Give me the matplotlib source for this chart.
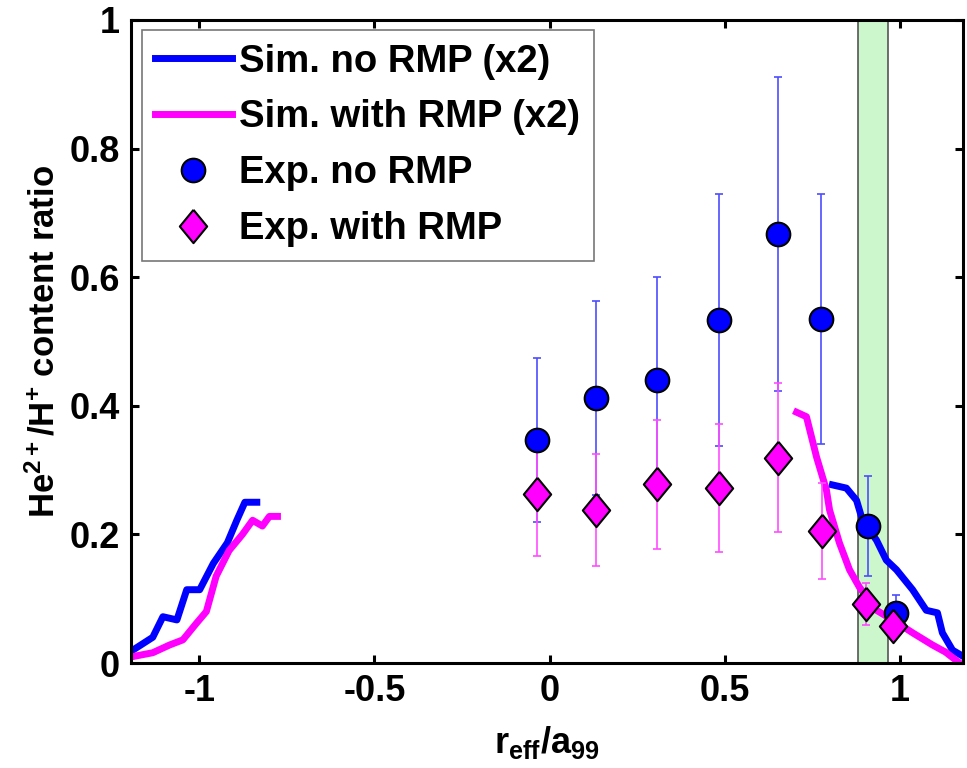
import matplotlib
matplotlib.use('Agg')
import matplotlib.pyplot as plt
import numpy as np

plt.rcParams['font.family'] = ['Liberation Sans', 'DejaVu Sans']
plt.rcParams['mathtext.fontset'] = 'custom'
plt.rcParams['mathtext.rm'] = 'Liberation Sans:bold'
plt.rcParams['mathtext.it'] = 'Liberation Sans:bold'
plt.rcParams['mathtext.default'] = 'rm'

# simulation curves (x2)
sim_no_left_x = [-1.19, -1.133, -1.104, -1.064, -1.036, -0.999, -0.96, -0.92, -0.893, -0.87, -0.836]
sim_no_left_y = [0.02, 0.04, 0.072, 0.067, 0.114, 0.114, 0.155, 0.187, 0.222, 0.25, 0.25]
sim_rmp_left_x = [-1.19, -1.133, -1.085, -1.047, -1.008, -0.98, -0.952, -0.915, -0.877, -0.848, -0.82, -0.80, -0.777]
sim_rmp_left_y = [0.01, 0.016, 0.028, 0.036, 0.062, 0.08, 0.135, 0.175, 0.2, 0.222, 0.213, 0.228, 0.228]
sim_no_right_x = [0.807, 0.847, 0.876, 0.893, 0.933, 0.961, 0.99, 1.036, 1.075, 1.107, 1.121, 1.15, 1.175]
sim_no_right_y = [0.277, 0.272, 0.253, 0.222, 0.191, 0.16, 0.145, 0.114, 0.082, 0.078, 0.047, 0.02, 0.012]
sim_rmp_right_x = [0.705, 0.733, 0.762, 0.79, 0.799, 0.827, 0.856, 0.884, 0.933, 0.979, 1.036, 1.093, 1.13, 1.17]
sim_rmp_right_y = [0.39, 0.383, 0.32, 0.269, 0.238, 0.187, 0.145, 0.118, 0.082, 0.067, 0.047, 0.028, 0.017, 0.0]

# experiment
exp_no_x = [-0.037, 0.131, 0.305, 0.482, 0.653, 0.775, 0.91, 0.99]
exp_no_y = [0.347, 0.412, 0.44, 0.533, 0.667, 0.535, 0.213, 0.078]
exp_no_err = [0.127, 0.151, 0.16, 0.196, 0.244, 0.194, 0.078, 0.028]
exp_rmp_x = [-0.037, 0.131, 0.305, 0.482, 0.653, 0.778, 0.904, 0.981]
exp_rmp_y = [0.263, 0.238, 0.278, 0.272, 0.319, 0.205, 0.092, 0.058]
exp_rmp_err = [0.097, 0.087, 0.10, 0.10, 0.116, 0.075, 0.033, 0.02]

band = (0.879, 0.967)

xticks = [-1, -0.5, 0, 0.5, 1]
xticklabels = ['-1', '-0.5', '0', '0.5', '1']
yticks = [0, 0.2, 0.4, 0.6, 0.8, 1]
yticklabels = ['0', '0.2', '0.4', '0.6', '0.8', '1']

fig = plt.figure(figsize=(9.67, 7.68), dpi=100)
ax = fig.add_axes([0.1355, 0.1367, 0.8604, 0.8373])

ax.axvspan(band[0], band[1], facecolor='#ccf7cc', edgecolor='#555555', lw=1.2, zorder=0)

l1, = ax.plot(sim_no_left_x, sim_no_left_y, color='b', lw=5, label='Sim. no RMP (x2)', zorder=2)
ax.plot(sim_no_right_x, sim_no_right_y, color='b', lw=5, zorder=2)
l2, = ax.plot(sim_rmp_left_x, sim_rmp_left_y, color='#ff00ff', lw=5, label='Sim. with RMP (x2)', zorder=2)
ax.plot(sim_rmp_right_x, sim_rmp_right_y, color='#ff00ff', lw=5, zorder=2)

ax.errorbar(exp_no_x, exp_no_y, yerr=exp_no_err, fmt='none', ecolor='#4d4dff', elinewidth=1.2, capsize=3, capthick=1.2, zorder=3)
ax.errorbar(exp_rmp_x, exp_rmp_y, yerr=exp_rmp_err, fmt='none', ecolor='#ff4dff', elinewidth=1.2, capsize=3, capthick=1.2, zorder=3)

diamond = [(0, 1), (0.82, 0), (0, -1), (-0.82, 0), (0, 1)]
m1, = ax.plot(exp_no_x, exp_no_y, 'o', ms=17, mfc='b', mec='k', mew=1.5, ls='none', label='Exp. no RMP', zorder=4)
m2, = ax.plot(exp_rmp_x, exp_rmp_y, marker=diamond, ms=24, mfc='#ff00ff', mec='k', mew=1.5, ls='none', label='Exp. with RMP', zorder=5)

ax.set_xlim(-1.195, 1.18)
ax.set_ylim(0, 1)
ax.set_xticks(xticks)
ax.set_xticklabels(xticklabels)
ax.set_yticks(yticks)
ax.set_yticklabels(yticklabels)
ax.tick_params(direction='in', length=6, width=2.2, top=True, right=True,
               labelsize=26, pad=8)
for lab in ax.get_xticklabels() + ax.get_yticklabels():
    lab.set_fontweight('bold')
for s in ax.spines.values():
    s.set_linewidth(2.2)

ax.set_xlabel(r'$r_{eff}/a_{99}$', fontsize=26, labelpad=11)
ax.set_ylabel(r'He$^{2+}$/H$^{+}$ content ratio', fontsize=25, fontweight='bold', labelpad=6)

leg = ax.legend(handles=[l1, l2, m1, m2], loc='upper left', bbox_to_anchor=(0.013, 0.984),
                borderaxespad=0, fancybox=False, frameon=True, handlelength=2.0,
                handletextpad=0.2, labelspacing=0.52, borderpad=0.35,
                prop={'family': 'Liberation Sans', 'weight': 'bold', 'size': 27.5})
leg.get_frame().set_edgecolor('#555555')
leg.get_frame().set_linewidth(1.2)

fig.savefig('out.png', dpi=100)
